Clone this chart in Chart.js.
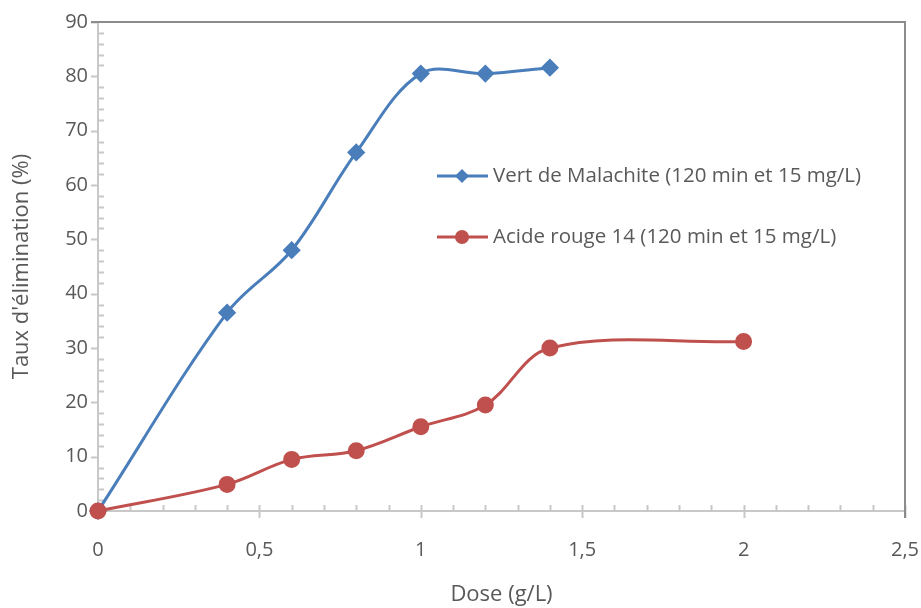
<!DOCTYPE html>
<html>
<head>
<meta charset="utf-8">
<script src="https://cdn.jsdelivr.net/npm/chart.js@4"></script>
<style>
  html, body { margin: 0; padding: 0; background: #fff; }
  #wrap { width: 921px; height: 608px; position: relative; }
</style>
</head>
<body>
<div id="wrap"><canvas id="myChart"></canvas></div>
<script>
// data
const doseVert = [0, 0.4, 0.6, 0.8, 1.0, 1.2, 1.4];
const tauxVert = [0, 36.5, 48, 66, 80.5, 80.5, 81.6];
const doseRouge = [0, 0.4, 0.6, 0.8, 1.0, 1.2, 1.4, 2.0];
const tauxRouge = [0, 4.9, 9.5, 11.1, 15.5, 19.5, 30, 31.2];
const labelVert = 'Vert de Malachite (120 min et 15 mg/L)';
const labelRouge = 'Acide rouge 14 (120 min et 15 mg/L)';
const xTicks = [0, 0.5, 1, 1.5, 2, 2.5];
const yTicks = [0, 10, 20, 30, 40, 50, 60, 70, 80, 90];

const FONT = '"Open Sans", sans-serif';
const textColor = '#595959';

function toPoints(xs, ys) {
    return xs.map((x, i) => ({ x: x, y: ys[i] }));
}

// axes with major + minor tick marks, like the spreadsheet original
const axisPlugin = {
    id: 'axisTicks',
    beforeDatasetsDraw(chart) {
        const c = chart.ctx;
        const a = chart.chartArea;
        const xs = chart.scales.x, ys = chart.scales.y;
        c.save();
        c.lineWidth = 2;
        c.strokeStyle = '#c8c8c8';
        c.beginPath();
        c.moveTo(a.left, a.top); c.lineTo(a.left, a.bottom);
        c.moveTo(a.left, a.bottom); c.lineTo(a.right, a.bottom);
        for (let v = 0; v <= 90; v += 2) {
            const py = Math.round(ys.getPixelForValue(v)) + 0.5;
            if (v % 10 === 0) { c.moveTo(a.left - 7, py); c.lineTo(a.left, py); }
            else { c.moveTo(a.left, py); c.lineTo(a.left + 6, py); }
        }
        for (let k = 0; k <= 25; k++) {
            const px = Math.round(xs.getPixelForValue(k / 10)) + 0.5;
            if (k % 5 === 0) { c.moveTo(px, a.bottom - 6); c.lineTo(px, a.bottom + 7); }
            else { c.moveTo(px, a.bottom); c.lineTo(px, a.bottom - 6); }
        }
        c.stroke();
        c.strokeStyle = '#8c8c8c';
        c.beginPath();
        c.moveTo(a.left - 7, a.top); c.lineTo(a.right, a.top); c.lineTo(a.right, a.bottom + 7);
        c.stroke();
        c.restore();
    }
};

// legend drawn inside the plot area
const legendPlugin = {
    id: 'innerLegend',
    afterDraw(chart) {
        const c = chart.ctx;
        const rows = [
            { y: 176, color: '#4a7ebb', style: 'rectRot', r: 7, text: labelVert },
            { y: 237, color: '#c0504d', style: 'circle', r: 7, text: labelRouge }
        ];
        c.save();
        rows.forEach(r => {
            c.strokeStyle = r.color;
            c.lineWidth = 3;
            c.beginPath();
            c.moveTo(437, r.y); c.lineTo(488, r.y);
            c.stroke();
            c.fillStyle = r.color;
            c.beginPath();
            if (r.style === 'circle') {
                c.arc(462, r.y, r.r, 0, Math.PI * 2);
            } else {
                c.moveTo(462, r.y - r.r); c.lineTo(462 + r.r, r.y);
                c.lineTo(462, r.y + r.r); c.lineTo(462 - r.r, r.y);
                c.closePath();
            }
            c.fill();
            c.fillStyle = textColor;
            c.font = '20.5px ' + FONT;
            c.textBaseline = 'middle';
            c.fillText(r.text, 493, r.y);
        });
        c.restore();
    }
};

document.addEventListener('DOMContentLoaded', function() {
    const ctx = document.getElementById('myChart').getContext('2d');
    new Chart(ctx, {
        type: 'scatter',
        data: {
            datasets: [
                {
                    label: labelVert,
                    data: toPoints(doseVert, tauxVert),
                    showLine: true,
                    borderColor: '#4a7ebb',
                    backgroundColor: '#4a7ebb',
                    borderWidth: 3,
                    pointStyle: 'rectRot',
                    pointRadius: 7,
                    pointHoverRadius: 7,
                    tension: 0.35,
                    clip: false,
                    order: 1
                },
                {
                    label: labelRouge,
                    data: toPoints(doseRouge, tauxRouge),
                    showLine: true,
                    borderColor: '#c0504d',
                    backgroundColor: '#c0504d',
                    borderWidth: 3,
                    pointStyle: 'circle',
                    pointRadius: 7,
                    pointHoverRadius: 7,
                    tension: 0.35,
                    clip: false,
                    order: 0
                }
            ]
        },
        options: {
            responsive: true,
            maintainAspectRatio: false,
            animation: false,
            layout: { padding: { top: 22, right: 16, left: 0, bottom: 0 } },
            plugins: {
                legend: { display: false },
                tooltip: { enabled: false }
            },
            scales: {
                x: {
                    type: 'linear',
                    min: 0,
                    max: 2.5,
                    afterBuildTicks: s => { s.ticks = xTicks.map(v => ({ value: v })); },
                    afterFit: s => { s.height = 97; s.paddingLeft = 0; s.paddingRight = 0; },
                    grid: { display: false, drawTicks: false },
                    border: { display: false },
                    ticks: {
                        color: textColor,
                        font: { family: FONT, size: 20 },
                        padding: 27,
                        callback: v => String(v).replace('.', ',')
                    },
                    title: {
                        display: true,
                        text: 'Dose (g/L)',
                        color: textColor,
                        font: { family: FONT, size: 22 },
                        padding: { top: 16, bottom: 0 }
                    }
                },
                y: {
                    min: 0,
                    max: 90,
                    afterBuildTicks: s => { s.ticks = yTicks.map(v => ({ value: v })); },
                    afterFit: s => { s.width = 98; s.paddingTop = 0; s.paddingBottom = 0; },
                    grid: { display: false, drawTicks: false },
                    border: { display: false },
                    ticks: {
                        color: textColor,
                        font: { family: FONT, size: 20 },
                        padding: 10
                    },
                    title: {
                        display: true,
                        text: "Taux d'élimination (%)",
                        color: textColor,
                        font: { family: FONT, size: 22 },
                        padding: { top: 9, bottom: 4 }
                    }
                }
            }
        },
        plugins: [axisPlugin, legendPlugin]
    });
});
</script>
</body>
</html>
